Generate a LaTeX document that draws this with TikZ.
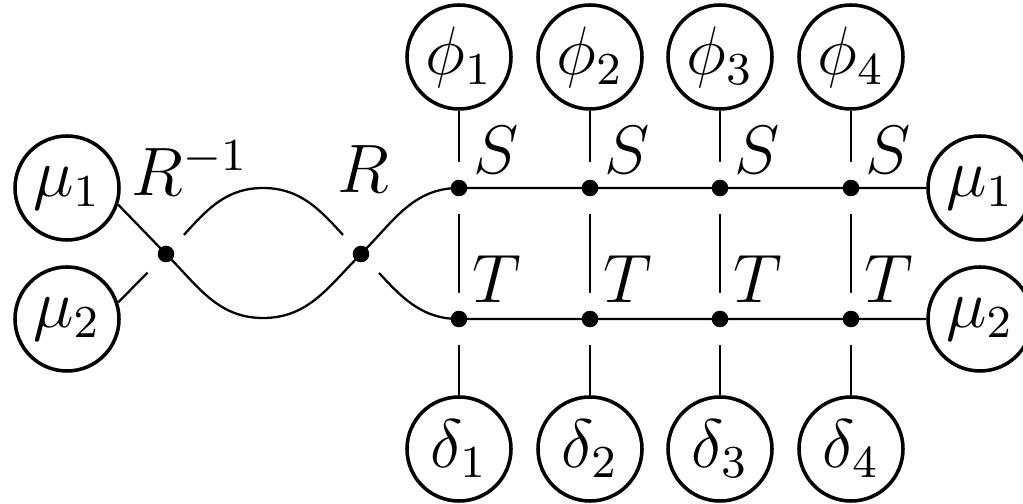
\documentclass[tikz,border=0pt]{standalone}
\pgfdeclarelayer{background}
\pgfsetlayers{background,main}
\begin{document}
\begin{tikzpicture}[x=0.175pt,y=-0.175pt, line width=0.62pt,
  font=\fontsize{12}{14}\selectfont,
  ball/.style={circle,draw,fill=white,minimum size=18.2pt,inner sep=0pt},
  dotn/.style={circle,fill=black,inner sep=0pt,minimum size=2.9pt},
  halo/.style={preaction={draw=white,line width=9.1pt}},
  lbl/.style={inner sep=0pt}]
\useasboundingbox (0,0) rectangle (1023,504);
% circles
\node[ball] (mu1l) at (67,188) {$\mu_1$};
\node[ball] (mu2l) at (67,319) {$\mu_2$};
\node[ball] (mu1r) at (980,188) {$\mu_1$};
\node[ball] (mu2r) at (980,319) {$\mu_2$};
\foreach \i/\x in {1/459,2/590,3/720,4/851} {
  \node[ball] (phi\i) at (\x,57) {$\phi_\i$};
  \node[ball] (del\i) at (\x,449) {$\delta_\i$};
  \node[dotn] (S\i) at (\x,188) {};
  \node[dotn] (T\i) at (\x,319) {};
  \node[lbl] (sl\i) at (\x+37,150) {$S$};
  \node[lbl] (tl\i) at (\x+38,279) {$T$};
}
\node[dotn] (d1) at (166,254) {};
\node[dotn] (d2) at (361,254) {};
\coordinate (lowA) at (263,318);
\coordinate (highB) at (263,188);
\node[lbl] (rinv) at (190,168) {$R^{-1}$};
\node[lbl] (r) at (363,169) {$R$};
\begin{pgfonlayer}{background}
\foreach \i in {1,2,3,4} {
  \draw (phi\i) -- (del\i);
}
\draw[halo] (mu2l.18) -- (d1.center) to[out=45,in=180] (highB)
  to[out=0,in=135] (d2.center) to[out=-45,in=180] (T1.center)
  -- (T2.center) -- (T3.center) -- (T4.center) -- (mu2r);
\draw[halo] (mu1l.-18) -- (d1.center) to[out=-45,in=180] (lowA)
  to[out=0,in=-135] (d2.center) to[out=45,in=180] (S1.center)
  -- (S2.center) -- (S3.center) -- (S4.center) -- (mu1r);
\end{pgfonlayer}
\end{tikzpicture}
\end{document}
